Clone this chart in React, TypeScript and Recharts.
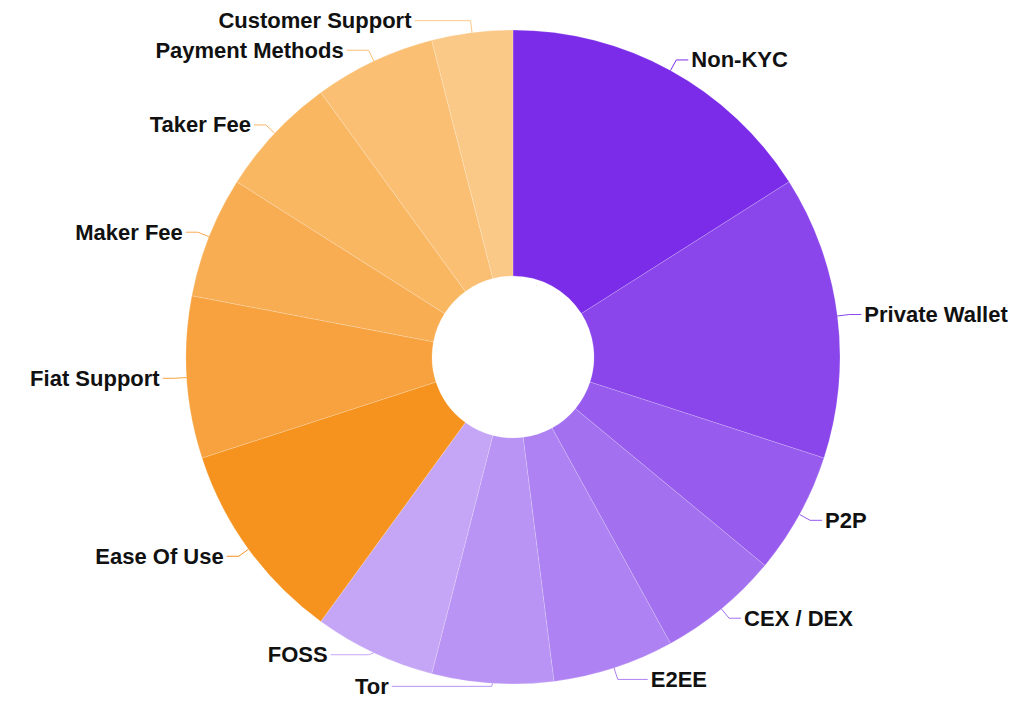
import { PieChart, Pie, Cell } from 'recharts'

const categories = [
  'Non-KYC',
  'Private Wallet',
  'P2P',
  'CEX / DEX',
  'E2EE',
  'Tor',
  'FOSS',
  'Ease Of Use',
  'Fiat Support',
  'Maker Fee',
  'Taker Fee',
  'Payment Methods',
  'Customer Support',
]

const weights = [16, 14, 6, 6, 6, 6, 6, 10, 8, 6, 6, 6, 4]

const colors = [
  '#7b2ce8',
  '#8a45eb',
  '#975bee',
  '#a370f0',
  '#ae82f2',
  '#b994f4',
  '#c5a6f6',
  '#f6921e',
  '#f7a23f',
  '#f8ad52',
  '#f9b762',
  '#fabf73',
  '#fbc987',
]

const data = categories.map((name, i) => ({ name, value: weights[i] }))

const RAD = Math.PI / 180

// extra room for a few labels that the original layout pushed aside
const labelNudge: Record<string, { dx: number; dy: number }> = {
  E2EE: { dx: 18, dy: 0 },
  Tor: { dx: 88, dy: -9 },
  FOSS: { dx: 26, dy: -9 },
  'Payment Methods': { dx: 10, dy: 0 },
  'Customer Support': { dx: 44, dy: 0 },
}

function renderLabel(props: any) {
  const { cx, cy, midAngle, outerRadius, name, index } = props
  const cos = Math.cos(-midAngle * RAD)
  const sin = Math.sin(-midAngle * RAD)
  const nudge = labelNudge[name] || { dx: 0, dy: 0 }
  const x1 = cx + outerRadius * cos
  const y1 = cy + outerRadius * sin
  const x2 = cx + (outerRadius + 12) * cos
  const y2 = cy + (outerRadius + 12) * sin + nudge.dy
  const right = cos >= 0
  const x3 = x2 + (right ? 1 : -1) * (12 + nudge.dx)
  const tx = x3 + (right ? 3 : -3)
  return (
    <g key={`lbl-${index}`}>
      <polyline
        points={`${x1},${y1} ${x2},${y2} ${x3},${y2}`}
        fill="none"
        stroke={colors[index % colors.length]}
        strokeWidth={1}
      />
      <text
        x={tx}
        y={y2}
        textAnchor={right ? 'start' : 'end'}
        dominantBaseline="central"
        fill="#111"
        fontSize={22}
        fontWeight="bold"
        fontFamily="'Liberation Sans', Arial, sans-serif"
      >
        {name}
      </text>
    </g>
  )
}

export default function App() {
  return (
    <div style={{ width: 1008, height: 692, background: '#fff' }}>
      <PieChart width={1008} height={692} margin={{ top: 0, right: 0, bottom: 0, left: 0 }}>
        <Pie
          data={data}
          dataKey="value"
          nameKey="name"
          cx={505}
          cy={349}
          innerRadius={81}
          outerRadius={327}
          startAngle={90}
          endAngle={-270}
          label={renderLabel}
          labelLine={false}
          stroke="rgba(255,255,255,0.18)"
          strokeWidth={1}
          isAnimationActive={false}
        >
          {data.map((entry, i) => (
            <Cell key={`cell-${entry.name}`} fill={colors[i % colors.length]} />
          ))}
        </Pie>
      </PieChart>
    </div>
  )
}
